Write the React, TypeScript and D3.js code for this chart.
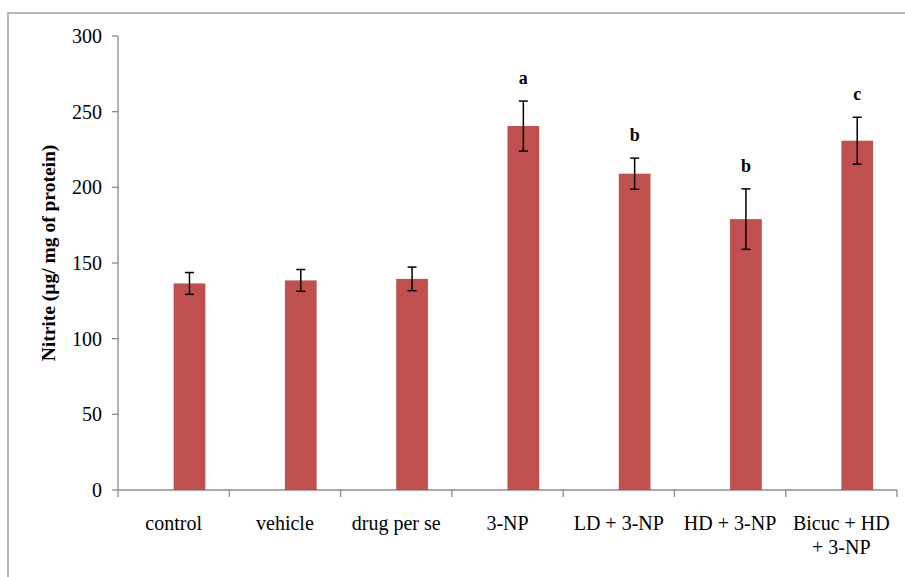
import * as d3 from 'd3';

const categories = ['control', 'vehicle', 'drug per se', '3-NP', 'LD + 3-NP', 'HD + 3-NP', 'Bicuc + HD + 3-NP'];
const labelLines = [['control'], ['vehicle'], ['drug per se'], ['3-NP'], ['LD + 3-NP'], ['HD + 3-NP'], ['Bicuc + HD', '+ 3-NP']];
const means = [136.5, 138.5, 139.5, 240.5, 209, 179, 230.8];
const errors = [7.2, 7.2, 7.8, 16.5, 10.3, 20, 15.5];
const sigLetters = ['', '', '', 'a', 'b', 'b', 'c'];
const yTicks = [0, 50, 100, 150, 200, 250, 300];

const W = 905, H = 577;
const plot = { left: 118, right: 897, top: 36, bottom: 490 };
const serif = '"Liberation Serif", "Times New Roman", serif';

export default function App() {
  const x = d3.scaleBand().domain(categories).range([plot.left, plot.right]).padding(0);
  const y = d3.scaleLinear().domain([0, 300]).range([plot.bottom, plot.top]);
  const bw = x.bandwidth();
  const barW = bw * 0.285;
  const axisColor = '#8c8c8c';

  return (
    <div style={{ position: 'absolute', left: 0, top: 0 }}>
      <svg width={W} height={H} style={{ display: 'block', background: '#fff' }}>
        {/* outer frame, cut off at right and bottom */}
        <rect x={8} y={13} width={1000} height={1000} fill="none" stroke="#a6a6a6" strokeWidth={1.6} />

        {/* y axis */}
        <line x1={plot.left} x2={plot.left} y1={plot.top} y2={plot.bottom} stroke={axisColor} strokeWidth={1.3} />
        {yTicks.map(t => (
          <g key={t}>
            <line x1={plot.left - 6} x2={plot.left} y1={y(t)} y2={y(t)} stroke={axisColor} strokeWidth={1.3} />
            <text x={102} y={y(t)} dy="0.35em" textAnchor="end" fontFamily={serif} fontSize={20} fill="#000">{t}</text>
          </g>
        ))}

        {/* x axis */}
        <line x1={plot.left} x2={plot.right} y1={plot.bottom} y2={plot.bottom} stroke={axisColor} strokeWidth={1.3} />
        {[...categories.map(c => x(c) as number), plot.right].map((px, i) => (
          <line key={i} x1={px} x2={px} y1={plot.bottom} y2={plot.bottom + 7} stroke={axisColor} strokeWidth={1.3} />
        ))}
        {categories.map((c, i) => (
          <text key={c} x={(x(c) as number) + bw / 2} y={530} textAnchor="middle" fontFamily={serif} fontSize={20} fill="#000">
            {labelLines[i].map((ln, j) => (
              <tspan key={j} x={(x(c) as number) + bw / 2} dy={j === 0 ? 0 : 24}>{ln}</tspan>
            ))}
          </text>
        ))}

        {/* bars */}
        {categories.map((c, i) => {
          const bx = (x(c) as number) + bw / 2;
          const cx = bx + barW / 2;
          const top = y(means[i] + errors[i]);
          const bot = y(means[i] - errors[i]);
          return (
            <g key={c}>
              <rect x={bx} y={y(means[i])} width={barW} height={plot.bottom - y(means[i])} fill="#C0504D" />
              <line x1={cx} x2={cx} y1={top} y2={bot} stroke="#000" strokeWidth={1.5} />
              <line x1={cx - 4.5} x2={cx + 4.5} y1={top} y2={top} stroke="#000" strokeWidth={1.5} />
              <line x1={cx - 4.5} x2={cx + 4.5} y1={bot} y2={bot} stroke="#000" strokeWidth={1.5} />
              {sigLetters[i] && (
                <text x={cx} y={top - 17} textAnchor="middle" fontFamily={serif} fontWeight="bold" fontSize={18} fill="#000">{sigLetters[i]}</text>
              )}
            </g>
          );
        })}

        {/* y axis title */}
        <text transform={`translate(48,253) rotate(-90)`} textAnchor="middle" dy="0.35em"
          fontFamily={serif} fontWeight="bold" fontSize={19.5} fill="#000">Nitrite (µg/ mg of protein)</text>
      </svg>
    </div>
  );
}
